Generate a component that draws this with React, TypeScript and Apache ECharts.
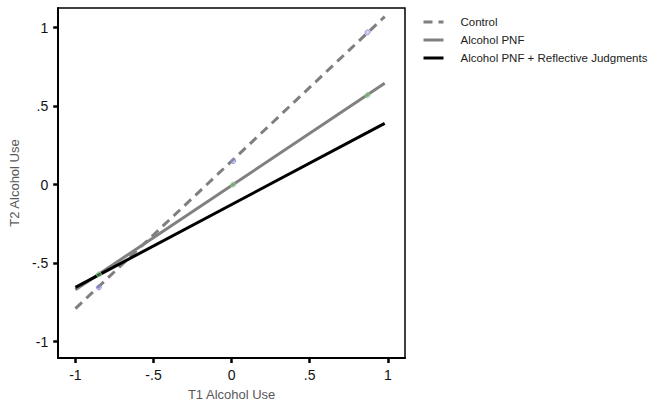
import React, { useEffect, useRef } from "react";
import * as echarts from "echarts";

const seriesNames = ["Control", "Alcohol PNF", "Alcohol PNF + Reflective Judgments"];
const controlLine = [[-1, -0.79], [0.98, 1.07]];
const pnfLine = [[-1, -0.67], [0.98, 0.645]];
const rjLine = [[-1, -0.655], [0.98, 0.39]];
const controlPoints = [[-0.85, -0.655], [0.01, 0.15], [0.87, 0.97]];
const pnfPoints = [[-0.85, -0.572], [0.01, 0.0], [0.87, 0.57]];
const tickValues = [-1, -0.5, 0, 0.5, 1];

const fmt = (v: number) => {
  const s = String(Math.round(v * 100) / 100);
  return s.replace(/^(-?)0\./, "$1.");
};

export default function App() {
  const ref = useRef<HTMLDivElement>(null);
  useEffect(() => {
    const chart = echarts.init(ref.current!, undefined, { renderer: "svg" });
    const font = "Liberation Sans";
    const axisCommon = {
      type: "value",
      nameLocation: "middle",
      nameTextStyle: { fontFamily: font, fontSize: 13, color: "#595959" },
      axisLine: { show: true, onZero: false, lineStyle: { color: "#000", width: 2 } },
      axisTick: { show: true, customValues: tickValues, length: 5, lineStyle: { color: "#000", width: 2.5 } },
      axisLabel: {
        customValues: tickValues,
        formatter: fmt,
        margin: 10,
        fontFamily: font,
        fontSize: 14,
        color: "#111",
      },
      splitLine: { show: false },
    };
    chart.setOption({
      animation: false,
      backgroundColor: "#ffffff",
      grid: {
        left: 43,
        top: 8,
        right: 249,
        bottom: 50,
        show: true,
        borderColor: "#000",
        borderWidth: 1.5,
        backgroundColor: "transparent",
      },
      legend: {
        orient: "vertical",
        left: 417,
        top: 11,
        itemWidth: 20,
        itemHeight: 12,
        itemGap: 6,
        data: seriesNames,
        itemStyle: { opacity: 0 },
        lineStyle: { width: 3 },
        textStyle: { fontFamily: font, fontSize: 11.5, color: "#222", padding: [0, 0, 0, 12] },
      },
      xAxis: {
        ...axisCommon,
        min: -1.11,
        max: 1.11,
        name: "T1 Alcohol Use",
        nameGap: 30,
      },
      yAxis: {
        ...axisCommon,
        min: -1.105,
        max: 1.125,
        name: "T2 Alcohol Use",
        nameGap: 27,
      },
      series: [
        {
          name: seriesNames[0],
          type: "line",
          data: controlLine,
          symbol: "none",
          lineStyle: { color: "#7f7f7f", width: 3, type: [9, 6] },
          itemStyle: { color: "#7f7f7f" },
          z: 3,
        },
        {
          name: seriesNames[1],
          type: "line",
          data: pnfLine,
          symbol: "none",
          lineStyle: { color: "#808080", width: 3 },
          itemStyle: { color: "#808080" },
          z: 3,
        },
        {
          name: seriesNames[2],
          type: "line",
          data: rjLine,
          symbol: "none",
          lineStyle: { color: "#000000", width: 3 },
          itemStyle: { color: "#000000" },
          z: 4,
        },
        {
          name: "controlPts",
          type: "scatter",
          data: controlPoints,
          symbol: "circle",
          symbolSize: 5,
          itemStyle: { color: "rgba(150,150,220,0.6)", borderColor: "#8a8ad8", borderWidth: 1 },
          z: 5,
        },
        {
          name: "pnfPts",
          type: "scatter",
          data: pnfPoints,
          symbol: "circle",
          symbolSize: 5,
          itemStyle: { color: "rgba(130,200,130,0.6)", borderColor: "#8fd08f", borderWidth: 1 },
          z: 5,
        },
      ],
    });
    return () => chart.dispose();
  }, []);
  return <div ref={ref} style={{ width: 654, height: 408, position: "absolute", left: 0, top: 0 }} />;
}
